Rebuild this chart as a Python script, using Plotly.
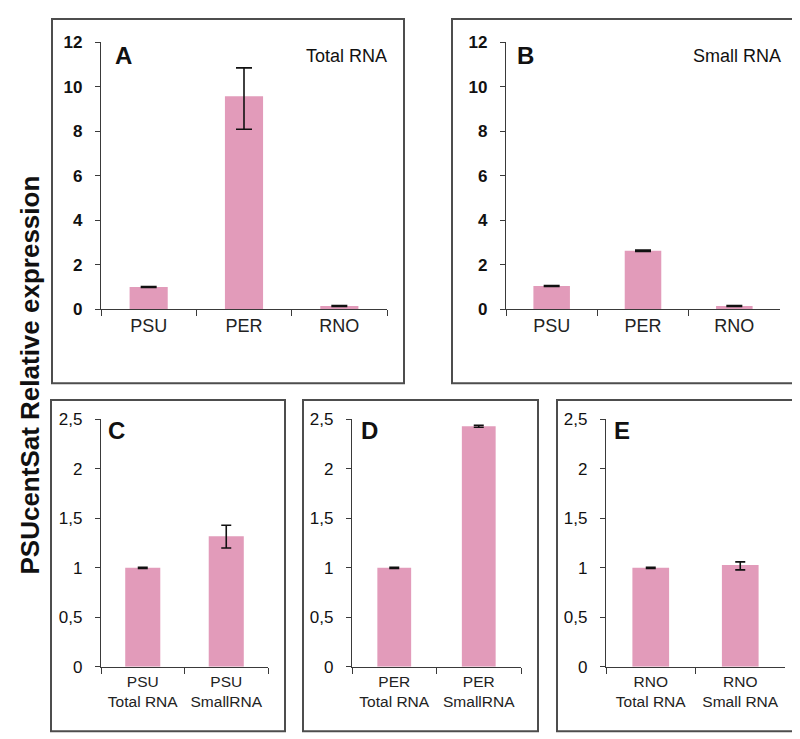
import plotly.graph_objects as go

# ---------------- data ----------------
top_categories = ["PSU", "PER", "RNO"]
total_rna_values = [1.0, 9.58, 0.15]
total_rna_err_plus = [0.02, 1.27, 0.02]
total_rna_err_minus = [0.02, 1.49, 0.02]

small_rna_values = [1.05, 2.63, 0.15]
small_rna_err_plus = [0.02, 0.03, 0.02]
small_rna_err_minus = [0.02, 0.03, 0.02]

psu_categories = ["PSU<br>Total RNA", "PSU<br>SmallRNA"]
psu_values = [1.0, 1.32]
psu_err_plus = [0.005, 0.11]
psu_err_minus = [0.005, 0.12]

per_categories = ["PER<br>Total RNA", "PER<br>SmallRNA"]
per_values = [1.0, 2.43]
per_err_plus = [0.005, 0.01]
per_err_minus = [0.005, 0.01]

rno_categories = ["RNO<br>Total RNA", "RNO<br>Small RNA"]
rno_values = [1.0, 1.03]
rno_err_plus = [0.005, 0.03]
rno_err_minus = [0.005, 0.05]

top_tickvals = [0, 2, 4, 6, 8, 10, 12]
top_ticktext = ["0", "2", "4", "6", "8", "10", "12"]
bottom_tickvals = [0, 0.5, 1, 1.5, 2, 2.5]
bottom_ticktext = ["0", "0,5", "1", "1,5", "2", "2,5"]

# ---------------- style ----------------
W, H = 800, 739
BAR = "#e29bba"
AX = "#3a3a3a"
BOX = "#4d4d4d"
FONT = "Liberation Sans, Arial, sans-serif"


def px(x):
    return x / W


def py(y):
    return 1 - y / H


fig = go.Figure()

panels = [
    # (x-axis, y-axis, cats, vals, e+, e-, x0px, x1px, ybottom, ytop, ymax, cap, width)
    ("x", "y", top_categories, total_rna_values, total_rna_err_plus, total_rna_err_minus, 93, 379, 300, 26, 12, 8, 0.40),
    ("x2", "y2", top_categories, small_rna_values, small_rna_err_plus, small_rna_err_minus, 498, 772, 300, 26, 12, 8, 0.40),
    ("x3", "y3", psu_categories, psu_values, psu_err_plus, psu_err_minus, 93, 260, 667, 413, 2.5, 5, 0.42),
    ("x4", "y4", per_categories, per_values, per_err_plus, per_err_minus, 344, 513, 667, 413, 2.5, 5, 0.40),
    ("x5", "y5", rno_categories, rno_values, rno_err_plus, rno_err_minus, 598, 777, 667, 413, 2.5, 5, 0.41),
]

for i, (xa, ya, cats, vals, ep, em, x0, x1, yb, yt, ymax, cap, bw) in enumerate(panels):
    fig.add_trace(go.Bar(
        x=cats, y=vals, xaxis=xa, yaxis=ya, width=bw,
        marker=dict(color=BAR, line=dict(width=0)),
        error_y=dict(type="data", array=ep, arrayminus=em, symmetric=False,
                     color="#111111", thickness=1.6, width=cap),
        showlegend=False, hoverinfo="skip",
    ))
    top = i < 2
    xkey = "xaxis" if xa == "x" else "xaxis" + xa[1:]
    ykey = "yaxis" if ya == "y" else "yaxis" + ya[1:]
    fig.update_layout({
        xkey: dict(
            domain=[px(x0), px(x1)], anchor=ya, type="category",
            showline=True, linecolor=AX, linewidth=1.4,
            ticks="outside", tickson="boundaries", ticklen=6, tickcolor=AX, tickwidth=1.4,
            showgrid=False, zeroline=False, fixedrange=True, tickangle=0,
            tickfont=dict(family=FONT, size=18 if top else 15.5, color="#222222"),
            range=[-0.5, len(cats) - 0.5],
        ),
        ykey: dict(
            domain=[py(yb), py(yt)], anchor=xa, range=[0, ymax],
            showline=True, linecolor=AX, linewidth=1.4,
            ticks="outside", ticklen=5, tickcolor=AX, tickwidth=1.4,
            ticklabelstandoff=9,
            showgrid=False, zeroline=False, fixedrange=True,
            tickvals=top_tickvals if top else bottom_tickvals,
            ticktext=[("<b>%s</b>" % t) for t in top_ticktext] if top else bottom_ticktext,
            tickfont=dict(family=FONT, size=17, color="#111111"),
        ),
    })

# panel frames
frames = [(44, 2, 396, 376), (444, 2, 794, 376),
          (43, 393, 277, 733), (295, 393, 530, 733), (549, 393, 794, 733)]
for (a, b, c, d) in frames:
    fig.add_shape(type="rect", xref="paper", yref="paper",
                  x0=px(a), x1=px(c), y0=py(d), y1=py(b),
                  line=dict(color=BOX, width=2), fillcolor="rgba(0,0,0,0)")

# panel letters & labels
letters = [("A", 116, 40), ("B", 517, 40), ("C", 108, 424), ("D", 361, 424), ("E", 614, 424)]
for t, x, y in letters:
    fig.add_annotation(text="<b>%s</b>" % t, x=px(x), y=py(y), xref="paper", yref="paper",
                       showarrow=False, font=dict(family=FONT, size=24, color="#111111"),
                       xanchor="center", yanchor="middle")

fig.add_annotation(text="Total RNA", x=px(381), y=py(40), xref="paper", yref="paper",
                   showarrow=False, xanchor="right", yanchor="middle",
                   font=dict(family=FONT, size=18, color="#111111"))
fig.add_annotation(text="Small RNA", x=px(775), y=py(40), xref="paper", yref="paper",
                   showarrow=False, xanchor="right", yanchor="middle",
                   font=dict(family=FONT, size=18, color="#111111"))

fig.add_annotation(text="<b>PSUcentSat Relative expression</b>", x=px(22), y=py(368),
                   xref="paper", yref="paper", showarrow=False, textangle=-90,
                   xanchor="center", yanchor="middle",
                   font=dict(family=FONT, size=26, color="#111111"))

fig.update_layout(
    width=W, height=H, margin=dict(l=0, r=0, t=0, b=0),
    paper_bgcolor="white", plot_bgcolor="white",
    bargap=0.5, showlegend=False,
)

fig.write_html("out.html")
